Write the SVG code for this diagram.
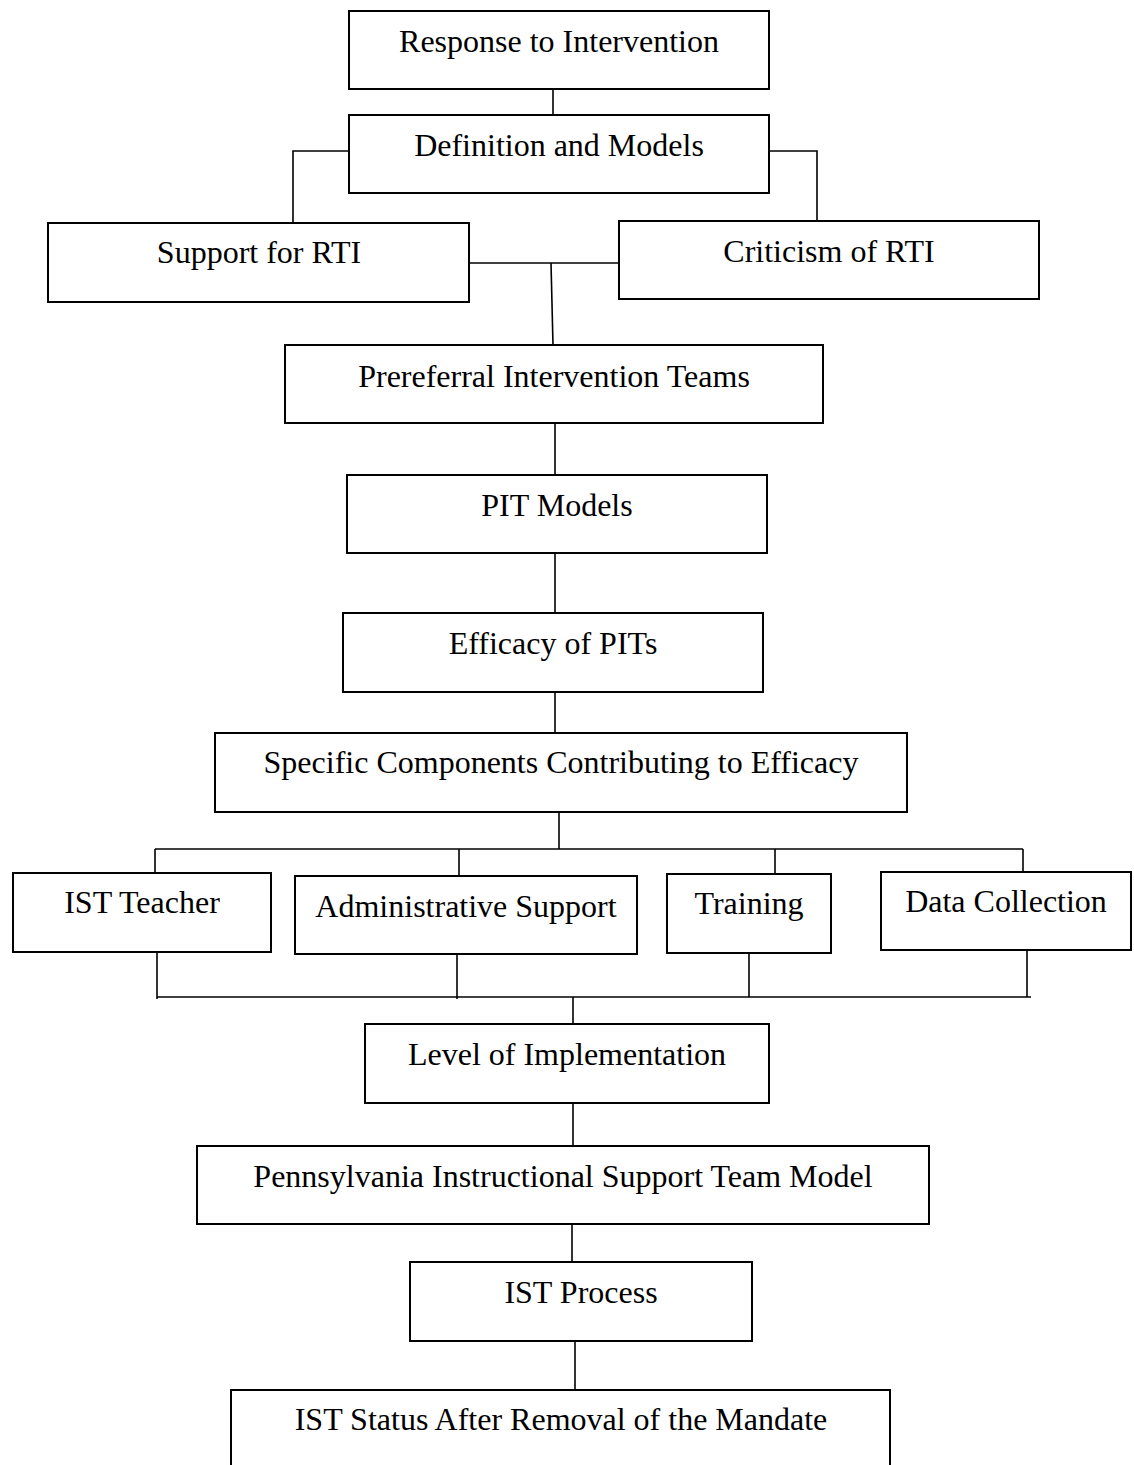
<svg xmlns="http://www.w3.org/2000/svg" width="1134" height="1465" viewBox="0 0 1134 1465">
<style>
.box{fill:#fff;stroke:#000;stroke-width:2}
.lbl{font-family:"Liberation Serif","Times New Roman",serif;font-size:32px;fill:#000;text-anchor:middle}
.con{fill:none;stroke:#000;stroke-width:1.6}
</style>
<rect width="1134" height="1465" fill="#fff"/>
<g id="connectors">
<line class="con" x1="553" y1="89" x2="553" y2="115"/>
<polyline class="con" points="349,151 293,151 293,223"/>
<polyline class="con" points="769,151 817,151 817,221"/>
<line class="con" x1="469" y1="263" x2="619" y2="263"/>
<line class="con" x1="551" y1="263" x2="553" y2="345"/>
<line class="con" x1="555" y1="423" x2="555" y2="475"/>
<line class="con" x1="555" y1="553" x2="555" y2="613"/>
<line class="con" x1="555" y1="692" x2="555" y2="733"/>
<line class="con" x1="559" y1="812" x2="559" y2="849"/>
<line class="con" x1="155" y1="849" x2="1023" y2="849"/>
<line class="con" x1="155" y1="849" x2="155" y2="873"/>
<line class="con" x1="459" y1="849" x2="459" y2="876"/>
<line class="con" x1="775" y1="849" x2="775" y2="874"/>
<line class="con" x1="1023" y1="849" x2="1023" y2="872"/>
<line class="con" x1="157" y1="952" x2="157" y2="999"/>
<line class="con" x1="457" y1="954" x2="457" y2="999"/>
<line class="con" x1="749" y1="953" x2="749" y2="997"/>
<line class="con" x1="1027" y1="950" x2="1027" y2="997"/>
<line class="con" x1="157" y1="997" x2="1031" y2="997"/>
<line class="con" x1="573" y1="997" x2="573" y2="1024"/>
<line class="con" x1="573" y1="1103" x2="573" y2="1146"/>
<line class="con" x1="572" y1="1224" x2="572" y2="1262"/>
<line class="con" x1="575" y1="1341" x2="575" y2="1390"/>
</g>
<g id="n-rti"><rect class="box" x="349" y="11" width="420" height="78"/><text class="lbl" x="559" y="52">Response to Intervention</text></g>
<g id="n-def"><rect class="box" x="349" y="115" width="420" height="78"/><text class="lbl" x="559" y="156">Definition and Models</text></g>
<g id="n-support"><rect class="box" x="48" y="223" width="421" height="79"/><text class="lbl" x="259" y="263">Support for RTI</text></g>
<g id="n-criticism"><rect class="box" x="619" y="221" width="420" height="78"/><text class="lbl" x="829" y="262">Criticism of RTI</text></g>
<g id="n-pit-teams"><rect class="box" x="285" y="345" width="538" height="78"/><text class="lbl" x="554" y="387">Prereferral Intervention Teams</text></g>
<g id="n-pit-models"><rect class="box" x="347" y="475" width="420" height="78"/><text class="lbl" x="557" y="516">PIT Models</text></g>
<g id="n-efficacy"><rect class="box" x="343" y="613" width="420" height="79"/><text class="lbl" x="553" y="654">Efficacy of PITs</text></g>
<g id="n-specific"><rect class="box" x="215" y="733" width="692" height="79"/><text class="lbl" x="561" y="773">Specific Components Contributing to Efficacy</text></g>
<g id="n-ist-teacher"><rect class="box" x="13" y="873" width="258" height="79"/><text class="lbl" x="142" y="913">IST Teacher</text></g>
<g id="n-admin"><rect class="box" x="295" y="876" width="342" height="78"/><text class="lbl" x="466" y="917">Administrative Support</text></g>
<g id="n-training"><rect class="box" x="667" y="874" width="164" height="79"/><text class="lbl" x="749" y="914">Training</text></g>
<g id="n-data"><rect class="box" x="881" y="872" width="250" height="78"/><text class="lbl" x="1006" y="912">Data Collection</text></g>
<g id="n-level"><rect class="box" x="365" y="1024" width="404" height="79"/><text class="lbl" x="567" y="1065">Level of Implementation</text></g>
<g id="n-penn"><rect class="box" x="197" y="1146" width="732" height="78"/><text class="lbl" x="563" y="1187">Pennsylvania Instructional Support Team Model</text></g>
<g id="n-process"><rect class="box" x="410" y="1262" width="342" height="79"/><text class="lbl" x="581" y="1303">IST Process</text></g>
<g id="n-status"><rect class="box" x="231" y="1390" width="659" height="120"/><text class="lbl" x="561" y="1430">IST Status After Removal of the Mandate</text></g>
</svg>
